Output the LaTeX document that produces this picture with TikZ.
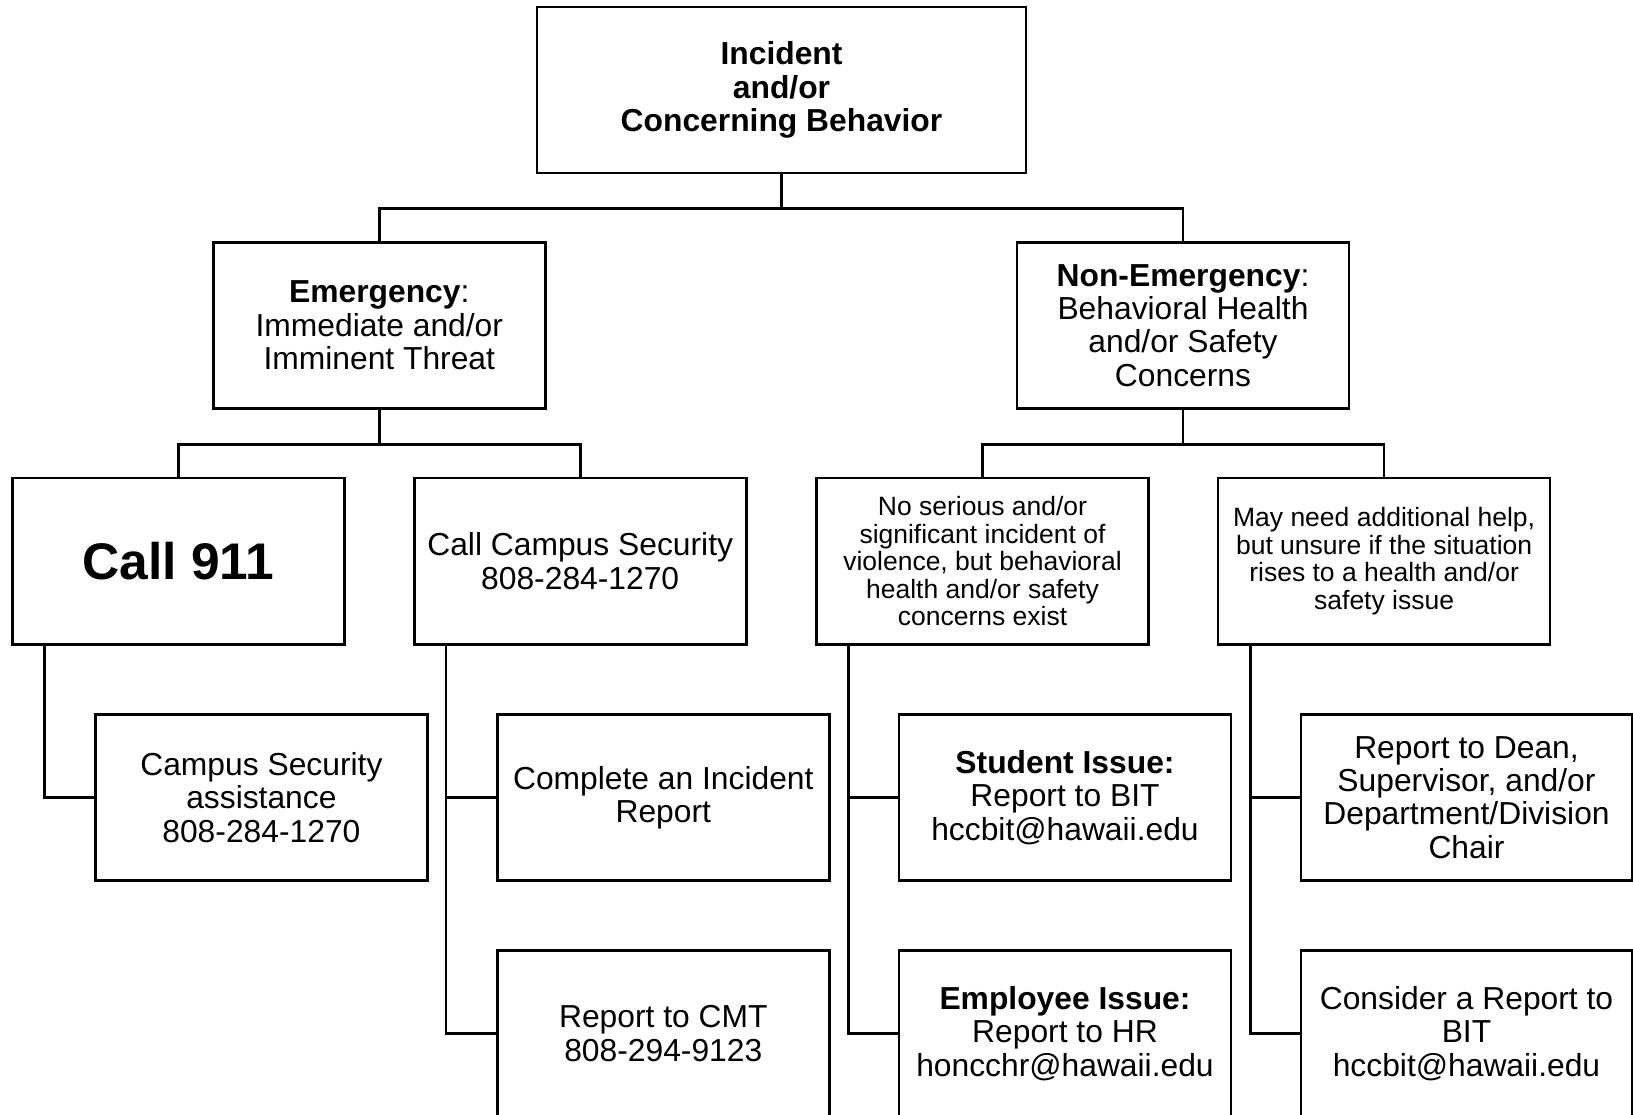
\documentclass[tikz,border=0pt]{standalone}
\usepackage{fontspec}
\setmainfont{Liberation Sans}
\begin{document}
\begin{tikzpicture}[x=1pt,y=-1pt,
  box/.style={draw=black, line width=2.6pt, fill=white, align=center, inner sep=0pt,
    minimum width=332pt, minimum height=166.5pt,
    font=\fontsize{31.8}{33.3}\selectfont},
  smallbox/.style={box, font=\fontsize{26.5}{27.6}\selectfont},
  link/.style={draw=black, line width=2.6pt}]
\fill[white] (0,0) rectangle (1633,1115);
\useasboundingbox (0,0) rectangle (1633,1115);

% level 1
\node[box, minimum width=489pt, minimum height=166pt] (top) at (781.5,90)
  {\textbf{Incident}\\\textbf{and/or}\\\textbf{Concerning Behavior}};

% level 2
\node[box] (emerg) at (379.3,325.5)
  {\textbf{Emergency}:\\Immediate and/or\\Imminent Threat};
\node[box] (nonem) at (1183,325.5)
  {\textbf{Non-Emergency}:\\Behavioral Health\\and/or Safety\\Concerns};

% level 3
\node[box, font=\fontsize{51.5}{55}\selectfont\bfseries] (call911) at (178.3,561.2) {Call 911};
\node[box] (callcs) at (580.2,561.2) {Call Campus Security\\808-284-1270};
\node[smallbox] (noser) at (982.5,561.2)
  {No serious and/or\\significant incident of\\violence, but behavioral\\health and/or safety\\concerns exist};
\node[smallbox] (mayneed) at (1384.1,561.2)
  {May need additional help,\\but unsure if the situation\\rises to a health and/or\\safety issue};

% level 4
\node[box] (csa) at (261.4,797.5) {Campus Security\\assistance\\808-284-1270};
\node[box] (complete) at (663.3,797.5) {Complete an Incident\\Report};
\node[box] (student) at (1065,797.5) {\textbf{Student Issue:}\\Report to BIT\\hccbit@hawaii.edu};
\node[box, minimum width=331pt] (dean) at (1466.5,797.5)
  {Report to Dean,\\Supervisor, and/or\\Department/Division\\Chair};

% level 5
\node[box] (cmt) at (663.3,1033.5) {Report to CMT\\808-294-9123};
\node[box] (employee) at (1065,1033.5) {\textbf{Employee Issue:}\\Report to HR\\honcchr@hawaii.edu};
\node[box, minimum width=331pt] (consider) at (1466.5,1033.5)
  {Consider a Report to\\BIT\\hccbit@hawaii.edu};

% connectors
\draw[link] (top.south) -- ++(0,34.5) -| (emerg.north);
\draw[link] (top.south) -- ++(0,34.5) -| (nonem.north);
\draw[link] (emerg.south) -- ++(0,34.5) -| (call911.north);
\draw[link] (emerg.south) -- ++(0,34.5) -| (callcs.north);
\draw[link] (nonem.south) -- ++(0,34.5) -| (noser.north);
\draw[link] (nonem.south) -- ++(0,34.5) -| (mayneed.north);

\draw[link] ([xshift=33.5pt]call911.south west) |- (csa.west);
\draw[link] ([xshift=33pt]callcs.south west) |- (complete.west);
\draw[link] ([xshift=33pt]callcs.south west) |- (cmt.west);
\draw[link] ([xshift=33pt]noser.south west) |- (student.west);
\draw[link] ([xshift=33pt]noser.south west) |- (employee.west);
\draw[link] ([xshift=33.5pt]mayneed.south west) |- (dean.west);
\draw[link] ([xshift=33.5pt]mayneed.south west) |- (consider.west);
\end{tikzpicture}
\end{document}
